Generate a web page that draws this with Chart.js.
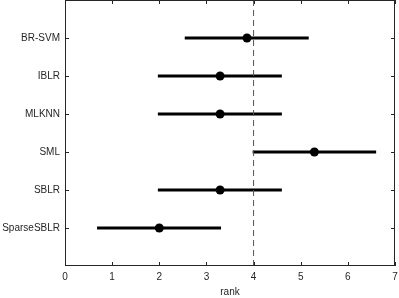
<!DOCTYPE html>
<html>
<head>
<meta charset="utf-8">
<script src="https://cdn.jsdelivr.net/npm/chart.js@4"></script>
<style>
  html, body { margin: 0; padding: 0; background: #fff; }
  #wrap { width: 399px; height: 298px; }
</style>
</head>
<body>
<div id="wrap"><canvas id="rankChart"></canvas></div>
<script>
(function () {
    "use strict";

    // data
    var methods  = ["BR-SVM", "IBLR", "MLKNN", "SML", "SBLR", "SparseSBLR"];
    var meanRank = [3.86, 3.29, 3.29, 5.29, 3.29, 2.00];
    var lowRank  = [2.54, 1.97, 1.97, 3.98, 1.97, 0.68];
    var highRank = [5.17, 4.60, 4.60, 6.60, 4.60, 3.31];
    var xTicks   = [0, 1, 2, 3, 4, 5, 6, 7];
    var refRank  = 4;

    var ink = "#262626";
    var font = { family: "'Liberation Sans', Arial, sans-serif", size: 10 };

    var datasets = [];

    // dashed reference line
    datasets.push({
        data: [{ x: refRank, y: 0 }, { x: refRank, y: methods.length + 1 }],
        showLine: true,
        borderColor: "#555",
        borderWidth: 1,
        borderDash: [6, 4],
        pointRadius: 0
    });

    // interval lines
    methods.forEach(function (m, i) {
        datasets.push({
            label: m,
            data: [{ x: lowRank[i], y: i + 1 }, { x: highRank[i], y: i + 1 }],
            showLine: true,
            borderColor: "#000",
            borderWidth: 3,
            pointRadius: 0
        });
    });

    // mean rank dots
    datasets.push({
        data: meanRank.map(function (v, i) { return { x: v, y: i + 1 }; }),
        backgroundColor: "#000",
        borderColor: "#000",
        borderWidth: 0,
        pointRadius: 4.5,
        pointHoverRadius: 4.5
    });

    var frame = {
        id: "frame",
        afterDraw: function (chart) {
            var c = chart.ctx, a = chart.chartArea;
            var xs = chart.scales.x, ys = chart.scales.y;
            c.save();
            c.strokeStyle = ink;
            c.lineWidth = 1;
            c.strokeRect(a.left + 0.5, a.top + 0.5, a.right - a.left - 1, a.bottom - a.top - 1);
            c.beginPath();
            xTicks.forEach(function (v) {
                var px = Math.round(xs.getPixelForValue(v)) + 0.5;
                c.moveTo(px, a.bottom); c.lineTo(px, a.bottom - 4);
                c.moveTo(px, a.top); c.lineTo(px, a.top + 4);
            });
            methods.forEach(function (m, i) {
                var py = Math.round(ys.getPixelForValue(i + 1)) + 0.5;
                c.moveTo(a.left, py); c.lineTo(a.left + 4, py);
                c.moveTo(a.right, py); c.lineTo(a.right - 4, py);
            });
            c.stroke();
            c.restore();
        }
    };

    new Chart(document.getElementById("rankChart"), {
        type: "scatter",
        data: { datasets: datasets },
        plugins: [frame],
        options: {
            responsive: true,
            maintainAspectRatio: false,
            animation: false,
            layout: { autoPadding: false, padding: { top: 0, right: 4, left: 0, bottom: 0 } },
            plugins: { legend: { display: false }, tooltip: { enabled: false } },
            scales: {
                x: {
                    type: "linear",
                    min: 0,
                    max: 7,
                    afterFit: function (s) {
                        s.height = 32;
                        s.paddingLeft = 0;
                        s.paddingRight = 0;
                    },
                    afterBuildTicks: function (s) {
                        s.ticks = xTicks.map(function (v) { return { value: v }; });
                    },
                    ticks: { color: ink, font: font, padding: 5 },
                    grid: { display: false, drawTicks: false },
                    border: { display: false },
                    title: { display: true, text: "rank", color: ink, font: font, padding: { top: 2, bottom: 0 } }
                },
                y: {
                    type: "linear",
                    min: 0,
                    max: methods.length + 1,
                    reverse: true,
                    afterFit: function (s) {
                        s.width = 65;
                        s.paddingTop = 0;
                        s.paddingBottom = 0;
                    },
                    afterBuildTicks: function (s) {
                        s.ticks = methods.map(function (m, i) { return { value: i + 1 }; });
                    },
                    ticks: {
                        color: ink,
                        font: font,
                        padding: 5,
                        callback: function (v) { return methods[v - 1] || ""; }
                    },
                    grid: { display: false, drawTicks: false },
                    border: { display: false }
                }
            }
        }
    });
})();
</script>
</body>
</html>
